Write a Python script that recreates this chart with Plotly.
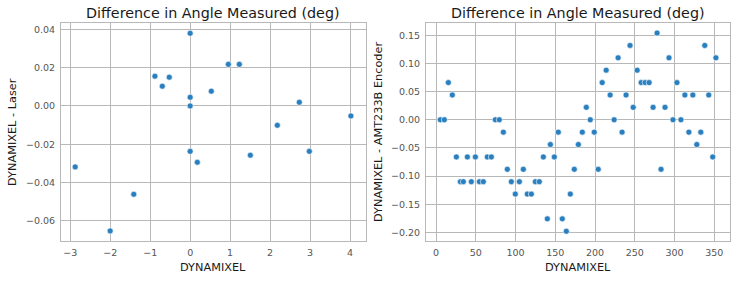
import plotly.graph_objects as go

# Left panel: DYNAMIXEL vs (DYNAMIXEL - Laser)
laser_x = [-2.875, -2.0, -1.41, -0.881, -0.697, -0.522, 0.0, 0.0, 0.0, 0.0,
           0.179, 0.529, 0.955, 1.23, 1.505, 2.18, 2.73, 2.98, 4.02]
laser_y = [-0.0318, -0.0652, -0.0461, 0.0155, 0.0103, 0.0150, 0.0379, 0.0045, 0.0, -0.0237,
           -0.0294, 0.0077, 0.0217, 0.0217, -0.0257, -0.0101, 0.0019, -0.0237, -0.0052]

# Right panel: DYNAMIXEL vs (DYNAMIXEL - AMT233B Encoder)
enc_x = [5.4, 10.5, 15.5, 20.5, 25.6, 30.6, 34.4, 39.4, 44.4, 49.5,
         54.5, 59.5, 64.5, 69.6, 74.6, 79.6, 84.7, 89.7, 94.7, 99.7,
         104.8, 109.8, 114.8, 119.9, 124.9, 129.9, 135.0, 140.0, 143.8, 148.8,
         153.8, 158.8, 163.9, 168.9, 173.9, 179.0, 184.0, 189.0, 194.0, 199.0,
         204.0, 209.0, 214.0, 219.0, 224.0, 229.0, 234.0, 239.0, 244.0, 248.0,
         253.0, 258.0, 263.0, 268.0, 273.0, 278.0, 283.0, 288.0, 293.0, 298.0,
         303.0, 308.0, 313.0, 318.0, 323.0, 328.0, 333.0, 338.0, 343.0, 348.0, 352.0]
enc_y = [0.0, 0.0, 0.066, 0.044, -0.066, -0.110, -0.110, -0.066, -0.110, -0.066,
         -0.110, -0.110, -0.066, -0.066, 0.0, 0.0, -0.022, -0.088, -0.110, -0.132,
         -0.110, -0.088, -0.132, -0.132, -0.110, -0.110, -0.066, -0.176, -0.044, -0.066,
         -0.022, -0.176, -0.198, -0.132, -0.088, -0.044, -0.022, 0.022, 0.0, -0.022,
         -0.088, 0.066, 0.088, 0.044, 0.0, 0.110, -0.022, 0.044, 0.132, 0.022,
         0.088, 0.066, 0.066, 0.066, 0.022, 0.154, -0.088, 0.022, 0.110, 0.0,
         0.066, 0.0, 0.044, -0.022, 0.044, -0.044, -0.022, 0.132, 0.044, -0.066, 0.110]

titles = ["Difference in Angle Measured (deg)", "Difference in Angle Measured (deg)"]
x_label = "DYNAMIXEL"
y_labels = ["DYNAMIXEL - Laser", "DYNAMIXEL - AMT233B Encoder"]

FONT = "DejaVu Sans"
GRID = "#b8b8b8"
TICKC = "#555555"
DOT = "#2a7fbf"

fig = go.Figure()
marker = dict(color=DOT, size=6, line=dict(color="white", width=0.6))
fig.add_trace(go.Scatter(x=laser_x, y=laser_y, mode="markers", marker=marker,
                         xaxis="x", yaxis="y", showlegend=False))
fig.add_trace(go.Scatter(x=enc_x, y=enc_y, mode="markers", marker=marker,
                         xaxis="x2", yaxis="y2", showlegend=False))

W, H = 737, 281
d1 = [61 / W, 365.7 / W]
d2 = [426 / W, 730.3 / W]
yd = [1 - 240.7 / H, 1 - 23.3 / H]

common = dict(showline=True, mirror=True, linecolor=GRID, linewidth=1,
              showgrid=True, gridcolor=GRID, gridwidth=1, zeroline=False,
              ticks="outside", ticklen=3, tickcolor="rgba(0,0,0,0)",
              tickfont=dict(family=FONT, size=9.5, color=TICKC))

fig.update_layout(
    width=W, height=H,
    margin=dict(l=0, r=0, t=0, b=0),
    paper_bgcolor="white", plot_bgcolor="white",
    xaxis=dict(domain=d1, range=[-3.23, 4.39], dtick=1, tick0=0, anchor="y", **common),
    yaxis=dict(domain=yd, range=[-0.0703, 0.0431], dtick=0.02, tick0=0, tickformat=".2f",
               anchor="x", **common),
    xaxis2=dict(domain=d2, range=[-12.6, 370.1], dtick=50, tick0=0, anchor="y2", **common),
    yaxis2=dict(domain=yd, range=[-0.2148, 0.1713], dtick=0.05, tick0=0, tickformat=".2f",
                anchor="x2", **common),
)

ann = []
for i, d in enumerate([d1, d2]):
    cx = (d[0] + d[1]) / 2
    ann.append(dict(text=titles[i], x=cx, y=1 - 12.5 / H, xref="paper", yref="paper",
                    xanchor="center", yanchor="middle", showarrow=False,
                    font=dict(family=FONT, size=14.3, color="#1a1a1a")))
    ann.append(dict(text=x_label, x=cx, y=1 - 267.5 / H, xref="paper", yref="paper",
                    xanchor="center", yanchor="middle", showarrow=False,
                    font=dict(family=FONT, size=11.3, color="#1a1a1a")))
ycenter = 1 - 132 / H
ann.append(dict(text=y_labels[0], x=12 / W, y=ycenter, xref="paper", yref="paper",
                xanchor="center", yanchor="middle", showarrow=False, textangle=-90,
                font=dict(family=FONT, size=11.3, color="#1a1a1a")))
ann.append(dict(text=y_labels[1], x=378 / W, y=ycenter, xref="paper", yref="paper",
                xanchor="center", yanchor="middle", showarrow=False, textangle=-90,
                font=dict(family=FONT, size=11.3, color="#1a1a1a")))
fig.update_layout(annotations=ann)

fig.write_html("out.html", config={"displayModeBar": False},
               post_script="document.body.style.margin='0';document.body.style.overflow='hidden';")
